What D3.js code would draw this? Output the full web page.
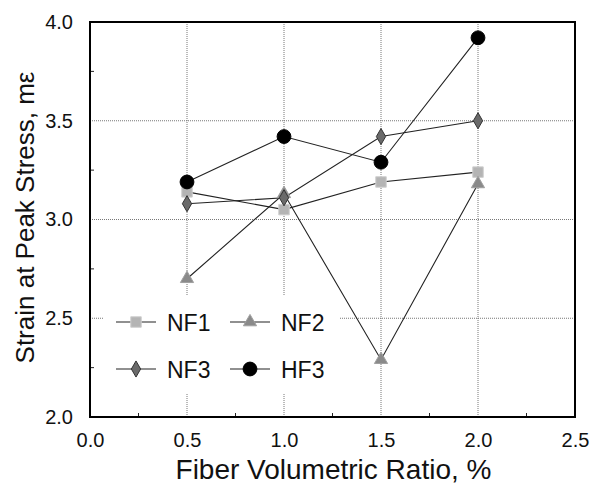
<!DOCTYPE html>
<html>
<head>
<meta charset="utf-8">
<script src="https://cdn.jsdelivr.net/npm/d3@7"></script>
<style>
  body { margin: 0; background: #fff; }
  text { font-family: "Liberation Sans", Arial, sans-serif; fill: #111; }
</style>
</head>
<body>
<div id="chart"></div>
<script>
// data
const ratios = [0.5, 1.0, 1.5, 2.0];
const nf1 = [3.14, 3.05, 3.19, 3.24];
const nf2 = [2.70, 3.13, 2.29, 3.18];
const nf3 = [3.08, 3.11, 3.42, 3.50];
const hf3 = [3.19, 3.42, 3.29, 3.92];
const xTicks = [0, 0.5, 1.0, 1.5, 2.0, 2.5];
const yTicks = [2.0, 2.5, 3.0, 3.5, 4.0];

const series = [
    { name: 'NF1', values: nf1, symbol: d3.symbolSquare, size: 110, fill: '#b4b4b4', stroke: '#cfcfcf' },
    { name: 'NF2', values: nf2, symbol: d3.symbolTriangle, size: 75, fill: '#8a8a8a', stroke: '#a0a0a0' },
    { name: 'NF3', values: nf3, symbol: d3.symbolDiamond, size: 75, fill: '#6a6a6a', stroke: '#333' },
    { name: 'HF3', values: hf3, symbol: d3.symbolCircle, size: 150, fill: '#000', stroke: '#000' }
];

const margin = { top: 22, right: 18, bottom: 73, left: 90 },
    width = 593 - margin.left - margin.right,
    height = 490 - margin.top - margin.bottom;

const svg = d3.select('#chart')
    .append('svg')
    .attr('width', width + margin.left + margin.right)
    .attr('height', height + margin.top + margin.bottom)
    .append('g')
    .attr('transform', 'translate(' + margin.left + ',' + margin.top + ')');

const xScale = d3.scaleLinear().domain([0, 2.5]).range([0, width]);
const yScale = d3.scaleLinear().domain([2.0, 4.0]).range([height, 0]);

// grid lines (dotted)
svg.append('g')
    .selectAll('line')
    .data(xTicks.slice(1, -1))
    .enter()
    .append('line')
    .attr('x1', d => xScale(d)).attr('x2', d => xScale(d))
    .attr('y1', 0).attr('y2', height)
    .attr('stroke', '#777')
    .attr('stroke-width', 1)
    .attr('stroke-dasharray', '1,1');

svg.append('g')
    .selectAll('line')
    .data(yTicks.slice(1, -1))
    .enter()
    .append('line')
    .attr('y1', d => yScale(d)).attr('y2', d => yScale(d))
    .attr('x1', 0).attr('x2', width)
    .attr('stroke', '#777')
    .attr('stroke-width', 1)
    .attr('stroke-dasharray', '1,1');

// minor ticks, inward
const xMinor = d3.range(0.25, 2.5, 0.5);
const yMinor = d3.range(2.25, 4.0, 0.5);
svg.append('g')
    .selectAll('line')
    .data(xMinor)
    .enter()
    .append('line')
    .attr('x1', d => xScale(d)).attr('x2', d => xScale(d))
    .attr('y1', height).attr('y2', height - 4)
    .attr('stroke', '#222');
svg.append('g')
    .selectAll('line')
    .data(yMinor)
    .enter()
    .append('line')
    .attr('y1', d => yScale(d)).attr('y2', d => yScale(d))
    .attr('x1', 0).attr('x2', 4)
    .attr('stroke', '#222');

// legend background (covers grid)
svg.append('rect')
    .attr('x', 13).attr('y', 273)
    .attr('width', 236).attr('height', 98)
    .attr('fill', '#fff');

// tick labels
svg.append('g')
    .attr('transform', 'translate(0,' + height + ')')
    .call(d3.axisBottom(xScale).tickValues(xTicks).tickFormat(d3.format('.1f')).tickSize(0).tickPadding(16))
    .call(g => g.select('.domain').remove())
    .selectAll('text')
    .style('font-size', '20px')
    .style('font-family', '"Liberation Sans", Arial, sans-serif')
    .attr('fill', '#111');

svg.append('g')
    .call(d3.axisLeft(yScale).tickValues(yTicks).tickFormat(d3.format('.1f')).tickSize(0).tickPadding(17))
    .call(g => g.select('.domain').remove())
    .selectAll('text')
    .style('font-size', '20px')
    .style('font-family', '"Liberation Sans", Arial, sans-serif')
    .attr('fill', '#111');

// lines and markers
const line = d3.line()
    .x((d, i) => xScale(ratios[i]))
    .y(d => yScale(d));

series.forEach(s => {
    svg.append('path')
        .datum(s.values)
        .attr('d', line)
        .attr('fill', 'none')
        .attr('stroke', '#222')
        .attr('stroke-width', 1.1);
});

series.forEach(s => {
    svg.append('g')
        .selectAll('path')
        .data(s.values)
        .enter()
        .append('path')
        .attr('d', d3.symbol().type(s.symbol).size(s.size))
        .attr('transform', (d, i) => 'translate(' + xScale(ratios[i]) + ',' + yScale(d) + ')')
        .attr('fill', s.fill)
        .attr('stroke', s.stroke)
        .attr('stroke-width', 1);
});

// legend
const legendPos = [[26, 300], [140, 300], [26, 347], [140, 347]];
series.forEach((s, i) => {
    const [lx, ly] = legendPos[i];
    const g = svg.append('g').attr('transform', 'translate(' + lx + ',' + ly + ')');
    g.append('line')
        .attr('x1', 0).attr('x2', 40)
        .attr('stroke', '#222').attr('stroke-width', 1.1);
    g.append('path')
        .attr('d', d3.symbol().type(s.symbol).size(s.size))
        .attr('transform', 'translate(20,0)')
        .attr('fill', s.fill)
        .attr('stroke', s.stroke);
    g.append('text')
        .attr('x', 51).attr('y', 8.5)
        .style('font-size', '23px')
        .text(s.name);
});

// frame
svg.append('rect')
    .attr('x', 0).attr('y', 0)
    .attr('width', width).attr('height', height)
    .attr('fill', 'none')
    .attr('stroke', '#000')
    .attr('stroke-width', 2);

// axis titles
svg.append('text')
    .attr('text-anchor', 'middle')
    .attr('x', width / 2 + 1)
    .attr('y', height + 62)
    .style('font-size', '28px')
    .text('Fiber Volumetric Ratio, %');

svg.append('text')
    .attr('text-anchor', 'middle')
    .attr('transform', 'translate(' + (-56) + ',' + (height / 2 - 2) + ') rotate(-90)')
    .style('font-size', '26px')
    .text('Strain at Peak Stress, mε');
</script>
</body>
</html>
